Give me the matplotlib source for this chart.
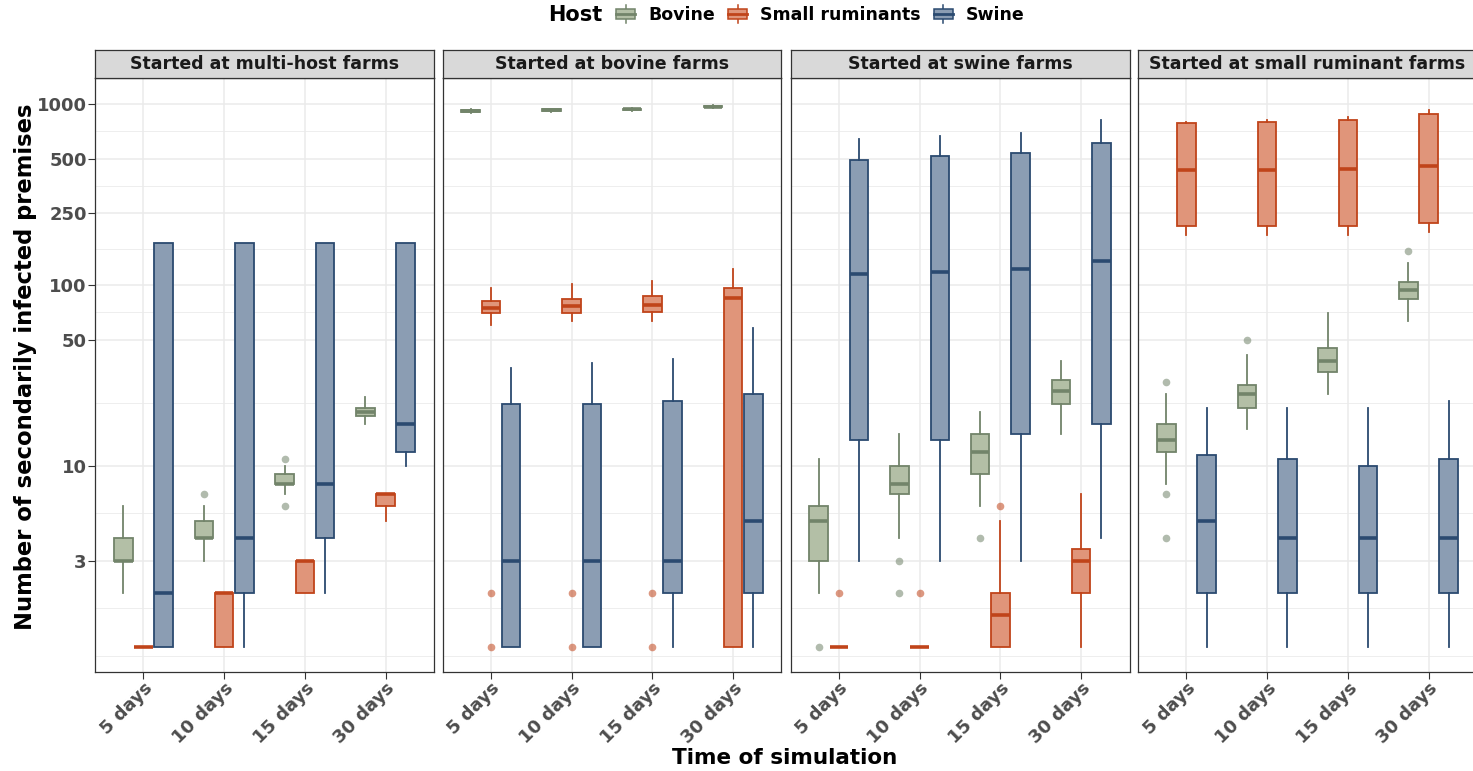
import numpy as np
import matplotlib.pyplot as plt
from matplotlib.legend_handler import HandlerBase
from matplotlib.patches import Rectangle
from matplotlib.lines import Line2D

times = ['5 days', '10 days', '15 days', '30 days']
hosts = ['Bovine', 'Small ruminants', 'Swine']
facets = ['Started at multi-host farms', 'Started at bovine farms',
          'Started at swine farms', 'Started at small ruminant farms']

# each row: (whisker low, q1, median, q3, whisker high, [outliers])
multi_bovine = [(2, 3, 3, 4, 6, []), (3, 4, 4, 5, 6, [7]), (7, 8, 8, 9, 10, [11, 6]), (17, 19, 20, 21, 24, [])]
multi_small = [(1, 1, 1, 1, 1, []), (1, 1, 2, 2, 2, []), (2, 2, 3, 3, 3, []), (5, 6, 7, 7, 7, [])]
multi_swine = [(1, 1, 2, 170, 170, []), (1, 2, 4, 170, 170, []), (2, 4, 8, 170, 170, []), (10, 12, 17, 170, 170, [])]

bovine_bovine = [(895, 905, 915, 925, 935, []), (905, 915, 925, 935, 945, []),
                 (915, 925, 935, 945, 955, []), (950, 960, 969, 978, 988, [])]
bovine_small = [(60, 70, 75, 82, 97, [2, 1]), (63, 70, 77, 84, 101, [2, 1]),
                (63, 71, 78, 87, 105, [2, 1]), (1, 1, 85, 97, 122, [])]
bovine_swine = [(1, 1, 3, 22, 35, []), (1, 1, 3, 22, 37, []), (1, 2, 3, 23, 39, []), (1, 2, 5, 25, 58, [])]

swine_bovine = [(2, 3, 5, 6, 11, [1]), (4, 7, 8, 10, 15, [3, 2]), (6, 9, 12, 15, 20, [4]), (15, 22, 26, 30, 38, [])]
swine_small = [(1, 1, 1, 1, 1, [2]), (1, 1, 1, 1, 1, [2]), (1, 1, 1.5, 2, 5, [6]), (1, 2, 3, 3.5, 7, [])]
swine_swine = [(3, 14, 115, 490, 643, []), (3, 14, 118, 516, 667, []),
               (3, 15, 122, 535, 695, []), (4, 17, 136, 612, 816, [])]

small_bovine = [(8, 12, 14, 17, 25, [29, 7, 4]), (16, 21, 25, 28, 41, [50]),
                (25, 33, 38, 45, 70, []), (63, 84, 94, 104, 133, [155])]
small_small = [(188, 213, 430, 787, 800, []), (188, 213, 432, 800, 820, []),
               (189, 213, 436, 813, 843, []), (196, 221, 453, 878, 925, [])]
small_swine = [(1, 2, 5, 11.5, 21, []), (1, 2, 4, 11, 21, []), (1, 2, 4, 10, 21, []), (1, 2, 4, 11, 23, [])]

panel_data = [[multi_bovine, multi_small, multi_swine],
              [bovine_bovine, bovine_small, bovine_swine],
              [swine_bovine, swine_small, swine_swine],
              [small_bovine, small_small, small_swine]]

y_breaks = [3, 10, 50, 100, 250, 500, 1000]
y_minor = [0.9, 1.64, 5.48, 22.4, 70.7, 158, 354, 707]

fill_cols = ['#b3bfa6', '#e0957a', '#8b9db3']
edge_cols = ['#72846a', '#c0441a', '#2b4a70']
offsets = [-0.25, 0, 0.25]


class BoxHandler(HandlerBase):
    def create_artists(self, legend, orig_handle, xdescent, ydescent,
                       width, height, fontsize, trans):
        fc = orig_handle.get_facecolor()
        ec = orig_handle.get_edgecolor()
        x0 = -xdescent + width * 0.05
        w = width * 0.9
        y0 = -ydescent + height * 0.12
        h = height * 0.76
        cx = x0 + w / 2
        vl = Line2D([cx, cx], [-ydescent - height * 0.2, -ydescent + height * 1.2],
                    color=ec, lw=1.1, transform=trans)
        r = Rectangle((x0, y0), w, h, facecolor=fc, edgecolor=ec, lw=1.1, transform=trans)
        md = Line2D([x0, x0 + w], [y0 + h / 2, y0 + h / 2], color=ec, lw=2, transform=trans)
        return [vl, r, md]


W, H = 1473, 771
fig = plt.figure(figsize=(W / 100, H / 100), dpi=100)

lefts = [95, 442.5, 790.5, 1138]
pw = 339
top_px, bot_px = 78, 672
strip_h = 28

for j in range(4):
    ax = fig.add_axes([lefts[j] / W, 1 - bot_px / H, pw / W, (bot_px - top_px) / H])
    ax.set_yscale('log')
    for h in range(3):
        stats = []
        for row in panel_data[j][h]:
            stats.append(dict(whislo=row[0], q1=row[1], med=row[2], q3=row[3],
                              whishi=row[4], fliers=row[5]))
        ax.bxp(stats, positions=np.arange(4) + offsets[h], widths=0.23,
               patch_artist=True, showcaps=False, manage_ticks=False,
               boxprops=dict(facecolor=fill_cols[h], edgecolor=edge_cols[h], lw=1.3),
               medianprops=dict(color=edge_cols[h], lw=2.6, solid_capstyle='butt'),
               whiskerprops=dict(color=edge_cols[h], lw=1.3),
               flierprops=dict(marker='o', markerfacecolor=edge_cols[h],
                               markeredgecolor='none', markersize=5.5, alpha=0.55))
    ax.set_xlim(-0.6, 3.6)
    ax.set_ylim(0.73, 1393)
    ax.set_xticks(range(4))
    ax.set_xticklabels(times, rotation=45, ha='right', rotation_mode='anchor',
                       fontsize=13, fontweight='bold', color='#4d4d4d')
    ax.set_yticks(y_breaks)
    ax.set_yticks(y_minor, minor=True)
    ax.tick_params(axis='both', which='major', length=5, width=0.8, color='#333333', pad=1)
    ax.tick_params(axis='y', which='minor', length=0)
    ax.tick_params(axis='x', pad=0)
    if j == 0:
        ax.set_yticklabels([str(b) for b in y_breaks], fontsize=13,
                           fontweight='bold', color='#4d4d4d')
    else:
        ax.tick_params(axis='y', which='major', length=0)
        ax.set_yticklabels([])
    ax.set_yticklabels([], minor=True)
    ax.grid(True, which='major', color='#ebebeb', lw=1.1)
    ax.grid(True, which='minor', axis='y', color='#ebebeb', lw=0.6)
    ax.set_axisbelow(True)
    for s in ax.spines.values():
        s.set_color('#333333')
        s.set_linewidth(0.9)

    sax = fig.add_axes([lefts[j] / W, 1 - top_px / H, pw / W, strip_h / H])
    sax.set_facecolor('#d9d9d9')
    sax.set_xticks([])
    sax.set_yticks([])
    for s in sax.spines.values():
        s.set_color('#333333')
        s.set_linewidth(0.9)
    sax.text(0.5, 0.5, facets[j], ha='center', va='center', fontsize=12.5,
             fontweight='bold', color='#1a1a1a', transform=sax.transAxes)

fig.text(0.017, 1 - 367 / H, 'Number of secondarily infected premises', rotation=90,
         ha='center', va='center', fontsize=16.3, fontweight='bold')
fig.text(785 / W, 1 - 758 / H, 'Time of simulation', ha='center', va='center',
         fontsize=15.5, fontweight='bold')

handles = [Rectangle((0, 0), 1, 1, facecolor=fill_cols[i], edgecolor=edge_cols[i]) for i in range(3)]
fig.text(575 / W, 1 - 15 / H, 'Host', ha='center', va='center', fontsize=15, fontweight='bold')
fig.legend(handles, hosts, handler_map={Rectangle: BoxHandler()}, ncol=3,
           loc='center', bbox_to_anchor=(820 / W, 1 - 15 / H), frameon=False,
           prop=dict(size=12.5, weight='bold'), handlelength=1.2, handleheight=0.8,
           handletextpad=0.7, columnspacing=0.7, borderpad=0)

fig.savefig('out.png', dpi=100)
